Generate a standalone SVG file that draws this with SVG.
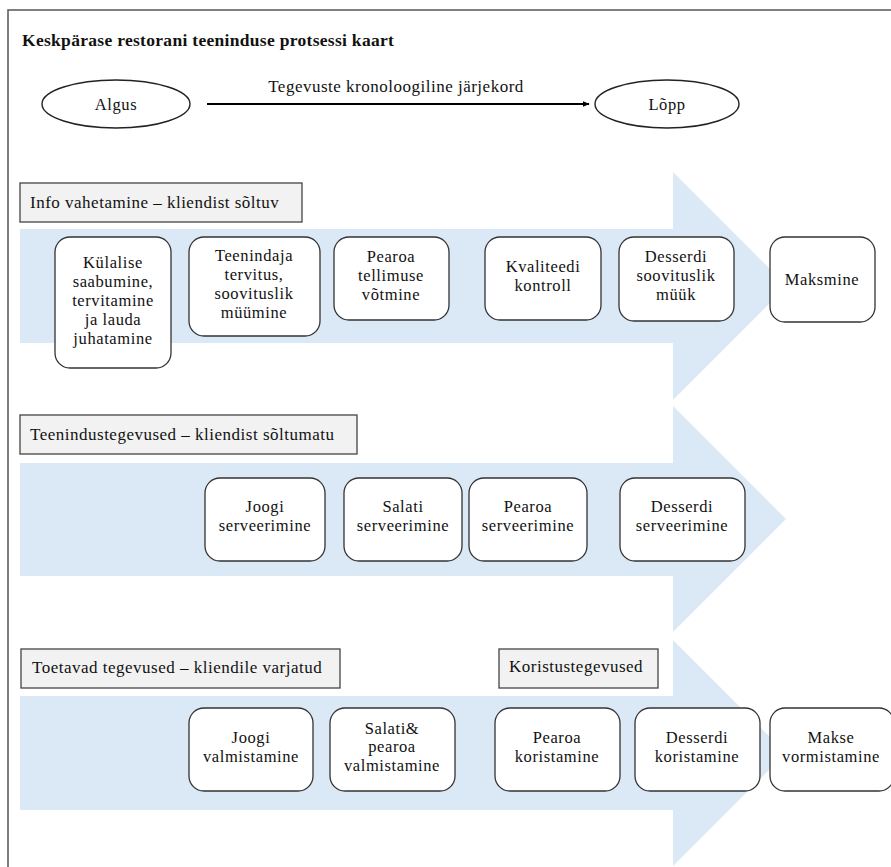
<svg xmlns="http://www.w3.org/2000/svg" width="891" height="867" viewBox="0 0 891 867" font-family="'Liberation Serif', 'Times New Roman', Times, serif">
  <defs>
    <marker id="head" viewBox="0 0 10 10" refX="9" refY="5" markerWidth="7" markerHeight="7" orient="auto" markerUnits="userSpaceOnUse">
      <path d="M0,1 L10,5 L0,9 Z" fill="#000"/>
    </marker>
    <style>
      text { font-family: 'Liberation Serif', 'Times New Roman', Times, serif; fill: #111; }
      .title { font-size: 17.5px; font-weight: bold; letter-spacing: 0.3px; }
      .lbl { font-size: 17px; letter-spacing: 0.5px; }
      .nt { font-size: 16.5px; letter-spacing: 0.6px; text-anchor: middle; }
      .band { fill: #dbe8f5; }
      .tag { fill: #f2f2f2; stroke: #444; stroke-width: 1.3; }
      .step { fill: #fff; stroke: #333; stroke-width: 1.3; }
      .term { fill: #fff; stroke: #222; stroke-width: 1.4; }
    </style>
  </defs>

  <rect x="0" y="0" width="891" height="867" fill="#fff"/>

  <!-- page frame -->
  <path d="M8,867 V10 H891" fill="none" stroke="#555" stroke-width="1.5"/>

  <text class="title" x="22" y="46">Keskpärase restorani teeninduse protsessi kaart</text>

  <!-- timeline -->
  <g id="algus">
    <ellipse class="term" cx="116" cy="104" rx="74" ry="24"/>
    <text class="nt" x="116" y="110">Algus</text>
  </g>
  <g id="lopp">
    <ellipse class="term" cx="667" cy="104" rx="72" ry="24"/>
    <text class="nt" x="667" y="110">Lõpp</text>
  </g>
  <g id="connectors">
    <line x1="207" y1="104" x2="589" y2="104" stroke="#000" stroke-width="2" marker-end="url(#head)"/>
    <text class="lbl" x="396" y="92" text-anchor="middle">Tegevuste  kronoloogiline järjekord</text>
  </g>

  <!-- lane bands -->
  <polygon class="band" points="20,229 673,229 673,172 787,286 673,400 673,343 20,343"/>
  <polygon class="band" points="20,463 673,463 673,406 786,519 673,632 673,576 20,576"/>
  <polygon class="band" points="20,696 673,696 673,640 786,753 673,866 673,810 20,810"/>

  <!-- lane 1 -->
  <g id="tag-info">
    <rect class="tag" x="20" y="183" width="282" height="39"/>
    <text class="lbl" x="30" y="208">Info vahetamine  – kliendist  sõltuv</text>
  </g>
  <g id="n-kulalise">
    <rect class="step" x="55" y="237" width="116" height="131" rx="15"/>
    <text class="nt" x="113" y="268">Külalise</text>
    <text class="nt" x="113" y="287">saabumine,</text>
    <text class="nt" x="113" y="306">tervitamine</text>
    <text class="nt" x="113" y="325">ja lauda</text>
    <text class="nt" x="113" y="344">juhatamine</text>
  </g>
  <g id="n-teenindaja">
    <rect class="step" x="189" y="237" width="131" height="99" rx="15"/>
    <text class="nt" x="254" y="261">Teenindaja</text>
    <text class="nt" x="254" y="280">tervitus,</text>
    <text class="nt" x="254" y="299">soovituslik</text>
    <text class="nt" x="254" y="318">müümine</text>
  </g>
  <g id="n-tellimus">
    <rect class="step" x="334" y="237" width="115" height="83" rx="15"/>
    <text class="nt" x="391" y="262">Pearoa</text>
    <text class="nt" x="391" y="281">tellimuse</text>
    <text class="nt" x="391" y="300">võtmine</text>
  </g>
  <g id="n-kvaliteet">
    <rect class="step" x="485" y="237" width="116" height="83" rx="15"/>
    <text class="nt" x="543" y="272">Kvaliteedi</text>
    <text class="nt" x="543" y="291">kontroll</text>
  </g>
  <g id="n-dessert-myyk">
    <rect class="step" x="619" y="237" width="115" height="84" rx="15"/>
    <text class="nt" x="676" y="262">Desserdi</text>
    <text class="nt" x="676" y="281">soovituslik</text>
    <text class="nt" x="676" y="300">müük</text>
  </g>
  <g id="n-maksmine">
    <rect class="step" x="770" y="237" width="105" height="85" rx="15"/>
    <text class="nt" x="822" y="285">Maksmine</text>
  </g>

  <!-- lane 2 -->
  <g id="tag-teenindus">
    <rect class="tag" x="20" y="415" width="337" height="39"/>
    <text class="lbl" x="30" y="440">Teenindustegevused  – kliendist sõltumatu</text>
  </g>
  <g id="n-jook-serv">
    <rect class="step" x="205" y="478" width="120" height="83" rx="15"/>
    <text class="nt" x="265" y="512">Joogi</text>
    <text class="nt" x="265" y="531">serveerimine</text>
  </g>
  <g id="n-salat-serv">
    <rect class="step" x="344" y="478" width="118" height="83" rx="15"/>
    <text class="nt" x="403" y="512">Salati</text>
    <text class="nt" x="403" y="531">serveerimine</text>
  </g>
  <g id="n-pearoa-serv">
    <rect class="step" x="469" y="478" width="118" height="83" rx="15"/>
    <text class="nt" x="528" y="512">Pearoa</text>
    <text class="nt" x="528" y="531">serveerimine</text>
  </g>
  <g id="n-dessert-serv">
    <rect class="step" x="620" y="478" width="125" height="83" rx="15"/>
    <text class="nt" x="682" y="512">Desserdi</text>
    <text class="nt" x="682" y="531">serveerimine</text>
  </g>

  <!-- lane 3 -->
  <g id="tag-toetavad">
    <rect class="tag" x="21" y="649" width="319" height="39"/>
    <text class="lbl" x="32" y="673">Toetavad  tegevused  – kliendile varjatud</text>
  </g>
  <g id="tag-koristus">
    <rect class="tag" x="499" y="649" width="159" height="39"/>
    <text class="lbl" x="509" y="672">Koristustegevused</text>
  </g>
  <g id="n-jook-valm">
    <rect class="step" x="189" y="708" width="124" height="83" rx="15"/>
    <text class="nt" x="251" y="743">Joogi</text>
    <text class="nt" x="251" y="762">valmistamine</text>
  </g>
  <g id="n-salat-valm">
    <rect class="step" x="330" y="708" width="125" height="83" rx="15"/>
    <text class="nt" x="392" y="734">Salati&amp;</text>
    <text class="nt" x="392" y="752">pearoa</text>
    <text class="nt" x="392" y="771">valmistamine</text>
  </g>
  <g id="n-pearoa-kor">
    <rect class="step" x="495" y="708" width="125" height="83" rx="15"/>
    <text class="nt" x="557" y="743">Pearoa</text>
    <text class="nt" x="557" y="762">koristamine</text>
  </g>
  <g id="n-dessert-kor">
    <rect class="step" x="635" y="708" width="125" height="83" rx="15"/>
    <text class="nt" x="697" y="743">Desserdi</text>
    <text class="nt" x="697" y="762">koristamine</text>
  </g>
  <g id="n-makse">
    <rect class="step" x="770" y="708" width="124" height="83" rx="15"/>
    <text class="nt" x="831" y="743">Makse</text>
    <text class="nt" x="831" y="762">vormistamine</text>
  </g>
</svg>
